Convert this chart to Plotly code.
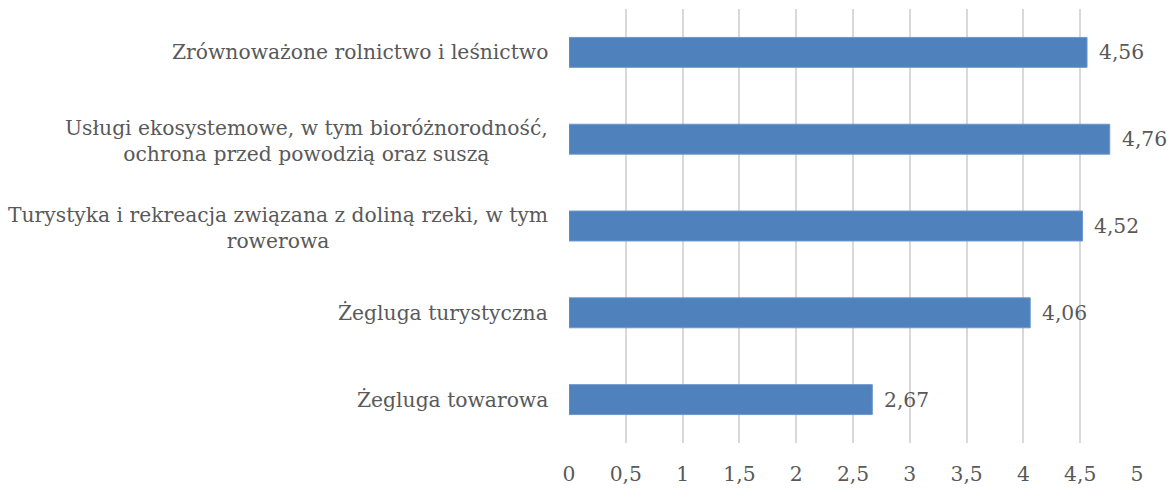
import plotly.graph_objects as go

categories = [
    "Zrównoważone rolnictwo i leśnictwo",
    "Usługi ekosystemowe, w tym bioróżnorodność,<br>ochrona przed powodzią oraz suszą",
    "Turystyka i rekreacja związana z doliną rzeki, w tym<br>rowerowa",
    "Żegluga turystyczna",
    "Żegluga towarowa",
]
values = [4.56, 4.76, 4.52, 4.06, 2.67]
tick_vals = [0, 0.5, 1, 1.5, 2, 2.5, 3, 3.5, 4, 4.5, 5]

font_family = "DejaVu Serif"
text_color = "#595959"
font = dict(family=font_family, size=20.3, color=text_color)

fig = go.Figure()
fig.add_trace(
    go.Bar(
        x=values,
        y=categories,
        orientation="h",
        marker=dict(color="#4F81BD", line=dict(color="#6C97CC", width=1)),
        hoverinfo="x+y",
    )
)

# category labels, centred lines like the original
for cat in categories:
    fig.add_annotation(
        x=0, xref="paper", y=cat, yref="y",
        text=cat, showarrow=False, xanchor="right", align="center",
        xshift=-19, yshift=-2 if "<br>" in cat else 0, font=font,
    )

# value labels to the right of each bar
for cat, val in zip(categories, values):
    fig.add_annotation(
        x=val, xref="x", y=cat, yref="y",
        text=f"{val:.2f}".replace(".", ","), showarrow=False,
        xanchor="left", xshift=10, font=font,
    )

fig.update_layout(
    width=1169,
    height=494,
    margin=dict(l=569, r=32, t=9, b=51),
    paper_bgcolor="white",
    plot_bgcolor="white",
    separators=", ",
    showlegend=False,
    bargap=0.655,
    xaxis=dict(
        range=[0, 5],
        tickvals=tick_vals,
        showgrid=True,
        gridcolor="#D9D9D9",
        gridwidth=1.5,
        zeroline=False,
        showline=False,
        ticks="outside",
        ticklen=13,
        tickcolor="rgba(0,0,0,0)",
        tickfont=font,
    ),
    yaxis=dict(
        autorange="reversed",
        showticklabels=False,
        showgrid=False,
        zeroline=False,
        showline=False,
    ),
)

# drop the default page margin so the figure fills the window
fig.write_html(
    "out.html",
    config={"displayModeBar": False},
    post_script="document.body.style.margin = '0';",
)
